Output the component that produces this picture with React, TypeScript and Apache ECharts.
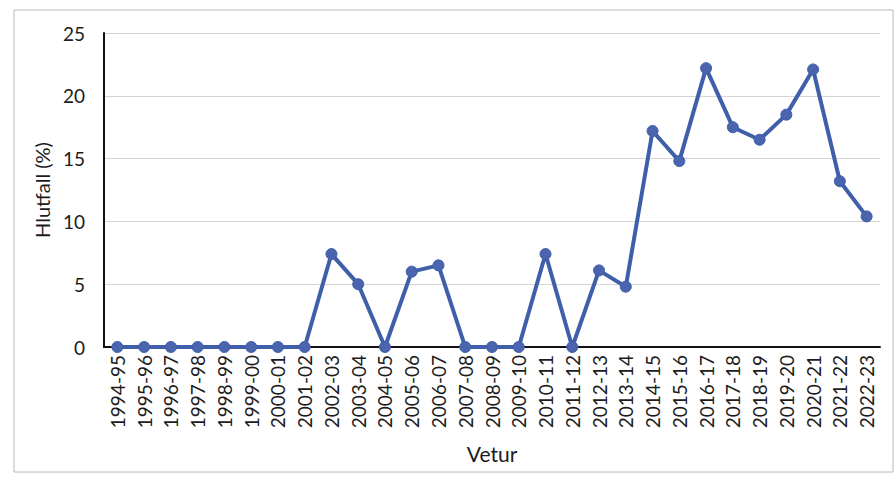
import React, { useEffect, useRef } from "react";
import * as echarts from "echarts";

const categories = [
  "1994-95", "1995-96", "1996-97", "1997-98", "1998-99", "1999-00", "2000-01",
  "2001-02", "2002-03", "2003-04", "2004-05", "2005-06", "2006-07", "2007-08",
  "2008-09", "2009-10", "2010-11", "2011-12", "2012-13", "2013-14", "2014-15",
  "2015-16", "2016-17", "2017-18", "2018-19", "2019-20", "2020-21", "2021-22",
  "2022-23",
];

const hlutfall = [
  0, 0, 0, 0, 0, 0, 0,
  0, 7.4, 5.0, 0, 6.0, 6.5, 0,
  0, 0, 7.4, 0, 6.1, 4.8, 17.2,
  14.8, 22.2, 17.5, 16.5, 18.5, 22.1, 13.2,
  10.4,
];

const yTicks = [0, 5, 10, 15, 20, 25];

export default function App() {
  const ref = useRef<HTMLDivElement>(null);
  useEffect(() => {
    if (!ref.current) return;
    const chart = echarts.init(ref.current, null, { renderer: "svg" });
    const font = "Lato, 'Open Sans', sans-serif";
    chart.setOption({
      animation: false,
      backgroundColor: "#ffffff",
      graphic: [
        {
          type: "rect",
          shape: { x: 14, y: 10, width: 879, height: 462 },
          style: { fill: "none", stroke: "#b8b8b8", lineWidth: 1 },
          silent: true,
        },
      ],
      grid: { left: 104, right: 16, top: 33, bottom: 130, containLabel: false },
      xAxis: {
        type: "category",
        data: categories,
        boundaryGap: true,
        name: "Vetur",
        nameLocation: "middle",
        nameGap: 96,
        nameTextStyle: { fontFamily: font, fontSize: 21, color: "#1c1c1c" },
        axisLine: { lineStyle: { color: "#111111", width: 2 } },
        axisTick: { show: false },
        axisLabel: {
          rotate: 90,
          interval: 0,
          fontFamily: font,
          fontSize: 19,
          color: "#1c1c1c",
          margin: 8,
        },
        splitLine: { show: false },
      },
      yAxis: {
        type: "value",
        min: yTicks[0],
        max: yTicks[yTicks.length - 1],
        interval: 5,
        name: "Hlutfall (%)",
        nameLocation: "middle",
        nameGap: 50,
        nameRotate: 90,
        nameTextStyle: { fontFamily: font, fontSize: 20, color: "#1c1c1c" },
        axisLine: { show: true, lineStyle: { color: "#111111", width: 2 } },
        axisTick: { show: false },
        axisLabel: { fontFamily: font, fontSize: 19, color: "#1c1c1c", margin: 19 },
        splitLine: { show: true, lineStyle: { color: "#d4d4d4", width: 1 } },
      },
      series: [
        {
          type: "line",
          data: hlutfall,
          symbol: "circle",
          symbolSize: 11,
          lineStyle: { color: "#3f5faa", width: 4 },
          itemStyle: { color: "#4a64ad", borderColor: "#3f5faa", borderWidth: 1 },
          z: 5,
        },
      ],
    });
    return () => chart.dispose();
  }, []);
  return (
    <div
      ref={ref}
      style={{ position: "absolute", left: 0, top: 0, width: 896, height: 477 }}
    />
  );
}
